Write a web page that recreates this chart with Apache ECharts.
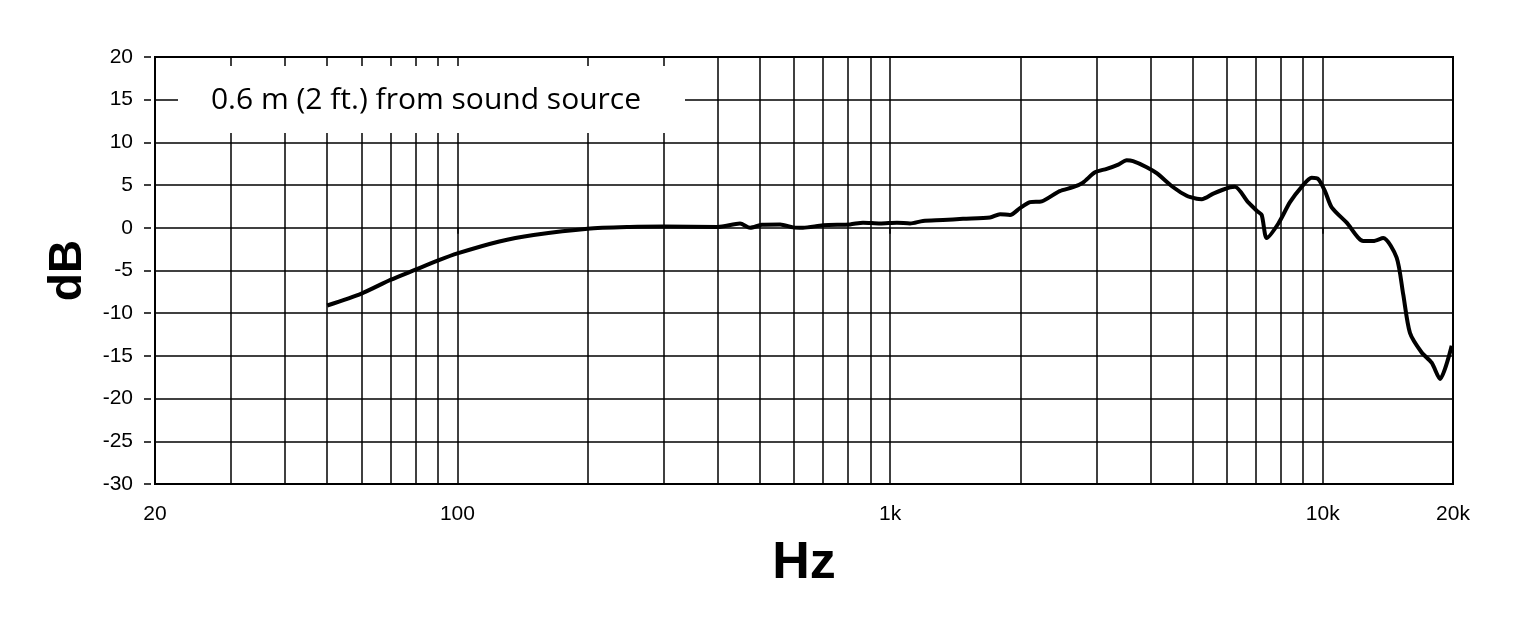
<!DOCTYPE html>
<html>
<head>
<meta charset="utf-8">
<script src="https://cdn.jsdelivr.net/npm/echarts@6/dist/echarts.min.js"></script>
<style>
html,body{margin:0;padding:0;background:#fff;}
#chart{width:1524px;height:633px;}
</style>
</head>
<body>
<div id="chart"></div>
<script>
// Frequency response (Hz, dB)
const freqs = [50,60,70,80,90,100,125,150,200,250,300,400,450,475,505,557,597,629,700,808,866,948,1037,1112,1191,1325,1474,1702,1795,1893,1996,2106,2241,2466,2647,2792,2976,3167,3369,3523,3643,3918,4132,4513,4848,5113,5251,5585,6104,6268,6729,7037,7226,7421,7896,8400,8938,9427,9763,10118,10486,11360,12408,13085,13799,14818,15346,15905,16930,17855,18664,19862];
const dbValues = [-9.1,-7.7,-6.1,-4.9,-3.85,-3.0,-1.6,-0.85,-0.1,0.1,0.15,0.1,0.5,0.0,0.35,0.4,0.05,0.0,0.3,0.4,0.6,0.5,0.6,0.5,0.8,0.9,1.05,1.2,1.6,1.5,2.3,3.0,3.1,4.3,4.75,5.3,6.5,6.9,7.4,7.9,7.8,7.1,6.4,4.75,3.75,3.4,3.35,4.0,4.75,4.8,2.97,2.0,1.5,-1.2,0.5,3.0,4.8,5.85,5.7,4.3,2.4,0.6,-1.55,-1.55,-1.2,-3.5,-7.8,-12.3,-14.6,-15.8,-17.7,-13.8];
// Minor vertical grid lines
const gridFreqs = [30,40,50,60,70,80,90,200,300,400,500,600,700,800,900,2000,3000,4000,5000,6000,7000,8000,9000];
const yTicks = {min:-30, max:20, interval:5};
const annotation = '0.6 m (2 ft.) from sound source';

const chart = echarts.init(document.getElementById('chart'));
const curve = freqs.map((f,i)=>[f, dbValues[i]]);
const fmtHz = v => { const r = Math.round(v); return r >= 1000 ? (r/1000)+'k' : String(r); };

chart.setOption({
  animation:false,
  backgroundColor:'#fff',
  grid:{left:155, right:71, top:57, bottom:149, show:true, borderColor:'#000', borderWidth:2, backgroundColor:'transparent'},
  xAxis:{
    type:'log', logBase:10, min:20, max:20000, offset:8,
    axisLine:{show:false},
    axisTick:{show:true, length:6, lineStyle:{color:'#000', width:1.5}},
    axisLabel:{color:'#000', fontFamily:'Liberation Sans, Arial, sans-serif', fontSize:21, margin:12, formatter:fmtHz, showMinLabel:true, showMaxLabel:true},
    splitLine:{show:true, lineStyle:{color:'#000', width:1.5}},
    minorTick:{show:false}, minorSplitLine:{show:false},
    name:'Hz', nameLocation:'middle', nameGap:46,
    nameTextStyle:{color:'#000', fontFamily:'Liberation Sans, Arial, sans-serif', fontSize:52, fontWeight:'bold'}
  },
  yAxis:{
    type:'value', min:yTicks.min, max:yTicks.max, interval:yTicks.interval, offset:4,
    axisLine:{show:false},
    axisTick:{show:true, length:7, lineStyle:{color:'#000', width:1.5}},
    axisLabel:{color:'#000', fontFamily:'Liberation Sans, Arial, sans-serif', fontSize:21, margin:18},
    splitLine:{show:true, lineStyle:{color:'#000', width:1.5}},
    name:'dB', nameLocation:'middle', nameGap:56, nameRotate:90,
    nameTextStyle:{color:'#000', fontFamily:'Liberation Sans, Arial, sans-serif', fontSize:46, fontWeight:'bold'}
  },
  graphic:[
    {type:'rect', z:100, zlevel:0, shape:{x:178, y:66, width:507, height:67}, style:{fill:'#ffffff', stroke:null}},
    {type:'text', z:101, zlevel:0, x:426, y:100, style:{text:annotation, fill:'#000', fontSize:30, fontFamily:'Open Sans, sans-serif', align:'center', verticalAlign:'middle'}}
  ],
  series:[
    {
      type:'line', data:[], z:1, silent:true,
      markLine:{
        silent:true, symbol:['none','none'], animation:false,
        label:{show:false},
        lineStyle:{color:'#000', width:1.5, type:'solid'},
        emphasis:{disabled:true},
        data: gridFreqs.map(f=>({xAxis:f}))
      }
    },
    {
      type:'line', data:curve, z:5, showSymbol:false, smooth:0.25,
      lineStyle:{color:'#000', width:4, join:'round'}
    }
  ]
});
</script>
</body>
</html>
